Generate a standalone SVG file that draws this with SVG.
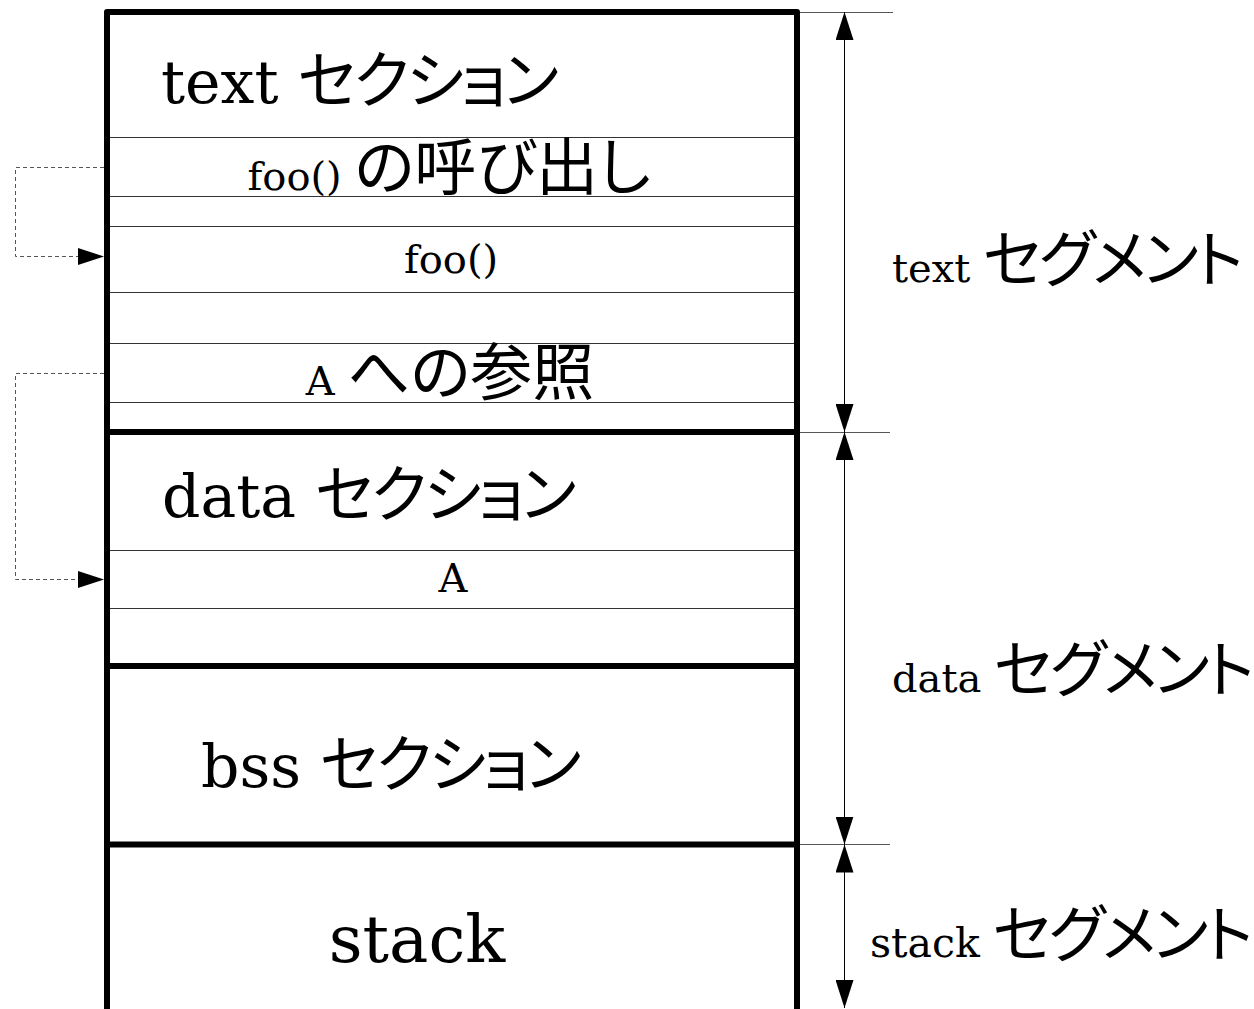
<svg xmlns="http://www.w3.org/2000/svg" width="1254" height="1009" viewBox="0 0 1254 1009">
  <style>
    .frame { fill: none; stroke: #000; stroke-width: 6; stroke-linejoin: round; }
    .divider { stroke: #000; stroke-width: 6; }
    .rule { stroke: #333; stroke-width: 1; }
    .ext { stroke: #555; stroke-width: 1; }
    .dim { stroke: #000; stroke-width: 1; fill: none; }
    .ref { stroke: #555; stroke-width: 1; fill: none; stroke-dasharray: 4 3; }
    .lat { font-family: "DejaVu Serif", "Liberation Serif", serif; fill: #000; }
    .jp { font-family: "Noto Sans CJK JP", "Noto Sans", sans-serif; fill: #000; font-feature-settings: "palt"; }
    .kana { letter-spacing: -3px; }
  </style>
  <defs>
    <marker id="dimHead" viewBox="0 0 28 18" refX="28" refY="9" markerWidth="28" markerHeight="18" markerUnits="userSpaceOnUse" orient="auto-start-reverse">
      <path d="M0,0 L28,9 L0,18 Z" fill="#000"/>
    </marker>
    <marker id="refHead" viewBox="0 0 26 17" refX="26" refY="8.5" markerWidth="26" markerHeight="17" markerUnits="userSpaceOnUse" orient="auto">
      <path d="M0,0 L26,8.5 L0,17 Z" fill="#000"/>
    </marker>
  </defs>

  <rect width="1254" height="1009" fill="#fff"/>

  <!-- memory image: outer frame and segment dividers -->
  <g id="memory-frame">
    <rect class="frame" x="107" y="12" width="690" height="1010"/>
    <line class="divider" x1="107" y1="432" x2="797" y2="432"/>
    <line class="divider" x1="107" y1="666" x2="797" y2="666"/>
    <line class="divider" x1="107" y1="844.5" x2="797" y2="844.5"/>
  </g>

  <!-- text section -->
  <g id="text-section">
    <text x="161" y="103"><tspan class="lat" font-size="60">text </tspan><tspan class="jp kana" font-size="62">セクション</tspan></text>
    <line class="rule" x1="110" y1="137.5" x2="794" y2="137.5"/>
  </g>

  <g id="row-foo-call">
    <text x="449" y="190" text-anchor="middle"><tspan class="lat" font-size="40">foo() </tspan><tspan class="jp" font-size="62">の呼び出し</tspan></text>
    <line class="rule" x1="110" y1="196.5" x2="794" y2="196.5"/>
  </g>

  <g id="row-blank-1">
    <line class="rule" x1="110" y1="226.5" x2="794" y2="226.5"/>
  </g>

  <g id="row-foo">
    <text class="lat" x="451" y="273" font-size="40" text-anchor="middle">foo()</text>
    <line class="rule" x1="110" y1="292.5" x2="794" y2="292.5"/>
  </g>

  <g id="row-blank-2">
    <line class="rule" x1="110" y1="343.5" x2="794" y2="343.5"/>
  </g>

  <g id="row-a-ref">
    <text x="450" y="395" text-anchor="middle"><tspan class="lat" font-size="40">A </tspan><tspan class="jp" font-size="62">への参照</tspan></text>
    <line class="rule" x1="110" y1="402.5" x2="794" y2="402.5"/>
  </g>

  <!-- data section -->
  <g id="data-section">
    <text x="162" y="517"><tspan class="lat" font-size="60">data </tspan><tspan class="jp kana" font-size="62">セクション</tspan></text>
    <line class="rule" x1="110" y1="550.5" x2="794" y2="550.5"/>
  </g>

  <g id="row-a">
    <text class="lat" x="453" y="592" font-size="40" text-anchor="middle">A</text>
    <line class="rule" x1="110" y1="608.5" x2="794" y2="608.5"/>
  </g>

  <!-- bss section -->
  <g id="bss-section">
    <text x="201" y="787"><tspan class="lat" font-size="60">bss </tspan><tspan class="jp kana" font-size="62">セクション</tspan></text>
  </g>

  <!-- stack -->
  <g id="stack">
    <text class="lat" x="417" y="962" font-size="66" text-anchor="middle">stack</text>
  </g>

  <!-- segment labels -->
  <g id="text-segment">
    <text x="892" y="282"><tspan class="lat" font-size="40">text </tspan><tspan class="jp kana" font-size="62">セグメント</tspan></text>
  </g>
  <g id="data-segment">
    <text x="892" y="692"><tspan class="lat" font-size="40">data </tspan><tspan class="jp kana" font-size="62" letter-spacing="-4">セグメント</tspan></text>
  </g>
  <g id="stack-segment">
    <text x="870" y="957"><tspan class="lat" font-size="41">stack </tspan><tspan class="jp kana" font-size="62" letter-spacing="-4">セグメント</tspan></text>
  </g>

  <!-- connectors: references and segment extents -->
  <g id="connectors">
    <path class="ref" d="M104,167.5 H15.5 V256.5 H104" marker-end="url(#refHead)"/>
    <path class="ref" d="M104,373.5 H15.5 V579.5 H104" marker-end="url(#refHead)"/>

    <line class="ext" x1="800" y1="12.5" x2="893" y2="12.5"/>
    <line class="ext" x1="800" y1="432.5" x2="890" y2="432.5"/>
    <line class="ext" x1="800" y1="844.5" x2="890" y2="844.5"/>

    <path class="dim" d="M844.5,12 V432" marker-start="url(#dimHead)" marker-end="url(#dimHead)"/>
    <path class="dim" d="M844.5,432 V844.5" marker-start="url(#dimHead)" marker-end="url(#dimHead)"/>
    <path class="dim" d="M844.5,844.5 V1008" marker-start="url(#dimHead)" marker-end="url(#dimHead)"/>
  </g>
</svg>
